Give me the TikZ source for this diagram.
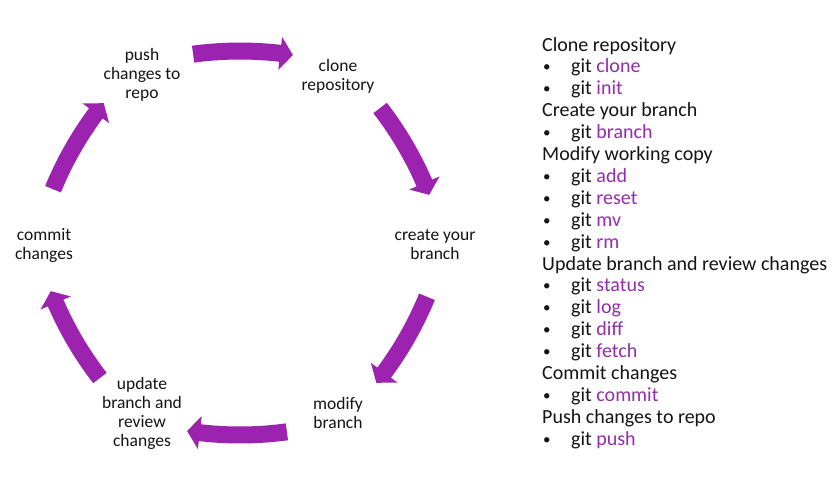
\documentclass[tikz,border=0pt]{standalone}
\usepackage{fontspec}
\setmainfont{Carlito}
\definecolor{arrowpurple}{RGB}{155,35,175}
\definecolor{cmdpurple}{RGB}{148,45,170}
\definecolor{inktext}{RGB}{20,20,20}
\tikzset{
  cyclearrow/.style={fill=arrowpurple, draw=none},
  steplabel/.style={align=center, anchor=north, inner sep=0pt, text=inktext,
    font=\fontsize{17.5}{19}\selectfont},
  listline/.style={anchor=base west, inner sep=0pt, text=inktext,
    font=\fontsize{20}{22}\selectfont},
}
\newcommand{\gitcmd}[1]{\makebox[29pt][l]{\hspace{1pt}\raisebox{1pt}{\fontsize{15}{15}\selectfont\textbullet}}git \textcolor{cmdpurple}{#1}}
\begin{document}
\begin{tikzpicture}[x=1pt,y=1pt]
\useasboundingbox (-240,-253) rectangle (598,243);
\fill[white] (-240,-253) rectangle (598,243);
\coordinate (C) at (0,0);

% cycle arrows
\foreach \t in {90,30,-30,-90,-150,150}{
  \begin{scope}[shift={(\t+180:158)}]
    \fill[cyclearrow] (\t+7.7:358.5) arc[start angle=\t+7.7, end angle=\t-6.6, radius=358.5]
      -- (\t-6.6:366.5) -- (\t-8.7:350) -- (\t-6.6:333.5) -- (\t-6.6:341.5)
      arc[start angle=\t-6.6, end angle=\t+7.7, radius=341.5] -- cycle;
  \end{scope}
}

% cycle labels
\node[steplabel] (push)   at (-98,196.3) {\strut push\\changes to\\repo};
\node[steplabel] (clone)  at (98,185.3)  {\strut clone\\repository};
\node[steplabel] (create) at (195,16.3)  {\strut create your\\branch};
\node[steplabel] (modify) at (98,-152.7) {\strut modify\\branch};
\node[steplabel] (update) at (-98,-132.7){\strut update\\branch and\\review\\changes};
\node[steplabel] (commit) at (-196,16.3) {\strut commit\\changes};

% command list
\node[listline] (l0)  at (302,192.0) {Clone repository};
\node[listline] (l1)  at (302,170.1) {\gitcmd{clone}};
\node[listline] (l2)  at (302,148.2) {\gitcmd{init}};
\node[listline] (l3)  at (302,126.3) {Create your branch};
\node[listline] (l4)  at (302,104.4) {\gitcmd{branch}};
\node[listline] (l5)  at (302,82.5)  {Modify working copy};
\node[listline] (l6)  at (302,60.6)  {\gitcmd{add}};
\node[listline] (l7)  at (302,38.7)  {\gitcmd{reset}};
\node[listline] (l8)  at (302,16.8)  {\gitcmd{mv}};
\node[listline] (l9)  at (302,-5.1)  {\gitcmd{rm}};
\node[listline] (l10) at (302,-27.0) {Update branch and review changes};
\node[listline] (l11) at (302,-48.9) {\gitcmd{status}};
\node[listline] (l12) at (302,-70.8) {\gitcmd{log}};
\node[listline] (l13) at (302,-92.7) {\gitcmd{diff}};
\node[listline] (l14) at (302,-114.6){\gitcmd{fetch}};
\node[listline] (l15) at (302,-136.5){Commit changes};
\node[listline] (l16) at (302,-158.4){\gitcmd{commit}};
\node[listline] (l17) at (302,-180.3){Push changes to repo};
\node[listline] (l18) at (302,-202.2){\gitcmd{push}};
\end{tikzpicture}
\end{document}
